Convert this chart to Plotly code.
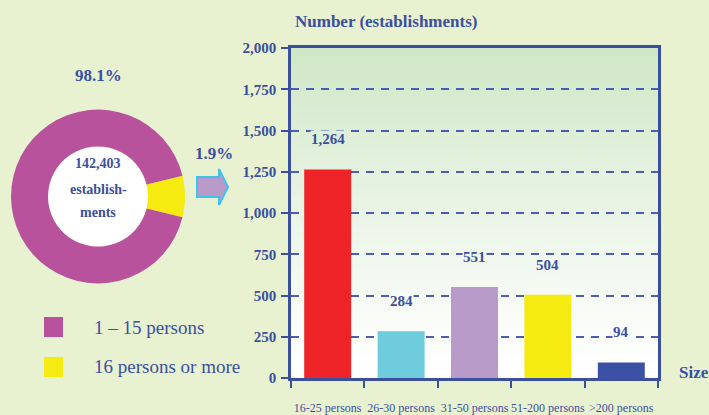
import plotly.graph_objects as go

W, H = 709, 415

# ---------------- data ----------------
size_groups = ["16-25 persons", "26-30 persons", "31-50 persons", "51-200 persons", ">200 persons"]
establishments = [1264, 284, 551, 504, 94]
bar_colors = ["#EE2428", "#6ECCDC", "#B89BC8", "#F5EB10", "#3B52A4"]

pie_groups = ["1 – 15 persons", "16 persons or more"]
pie_pct_labels = ["98.1%", "1.9%"]
pie_drawn_share = [92.3, 7.7]   # wedge as drawn in the picture (exaggerated)
pie_colors = ["#B9529C", "#F5EB10"]
total_lines = ["142,403", "establish-", "ments"]

y_ticks = [0, 250, 500, 750, 1000, 1250, 1500, 1750, 2000]
y_ticktext = ["0", "250", "500", "750", "1,000", "1,250", "1,500", "1,750", "2,000"]
Y_MAX = 2000

BLUE = "#3B4FA0"
BG = "#E8F2D0"
SERIF = "Liberation Serif, Times New Roman, serif"
TOP_RGB = (207, 231, 198)


def px(x):
    return x / W


def py(y):
    return 1 - y / H


def grad(frac):
    t = max(0.0, min(1.0, frac)) ** 1.2
    return "rgb(%d,%d,%d)" % tuple(int(round(255 + (tc - 255) * t)) for tc in TOP_RGB)


fig = go.Figure()

# donut (yellow wedge centered at 3 o'clock)
fig.add_trace(go.Pie(
    labels=pie_groups[::-1], values=pie_drawn_share[::-1],
    marker=dict(colors=pie_colors[::-1], line=dict(width=0)),
    hole=0.575, sort=False, direction="clockwise",
    rotation=90 - pie_drawn_share[1] * 3.6 / 2,
    textinfo="none", hoverinfo="label+value", showlegend=False,
    domain=dict(x=[px(11), px(185)], y=[py(284), py(109)]),
))

# bars
fig.add_trace(go.Bar(
    x=size_groups, y=establishments, marker=dict(color=bar_colors, line=dict(width=0)),
    width=0.64, showlegend=False,
))

shapes = []
# gradient plot background
n = 40
for i in range(n):
    shapes.append(dict(type="rect", xref="x domain", yref="y domain", x0=0, x1=1,
                       y0=i / n, y1=(i + 1) / n + 0.002, fillcolor=grad((i + 0.5) / n),
                       line=dict(width=0), layer="below"))
# white donut hole
shapes.append(dict(type="circle", xref="paper", yref="paper",
                   x0=px(48), x1=px(148), y0=py(247), y1=py(147),
                   fillcolor="white", line=dict(width=0), layer="below"))
# arrow
pts = [(197, 177), (219, 177), (219, 169), (228, 187), (219, 205), (219, 197), (197, 197)]
path = "M " + " L ".join("%f,%f" % (px(a), py(b)) for a, b in pts) + " Z"
shapes.append(dict(type="path", xref="paper", yref="paper", path=path,
                   fillcolor="#B89BC8", line=dict(color="#3EC3EA", width=2)))
# legend squares
for yc, col in zip([327, 367], pie_colors):
    shapes.append(dict(type="rect", xref="paper", yref="paper",
                       x0=px(44), x1=px(63), y0=py(yc + 10), y1=py(yc - 10),
                       fillcolor=col, line=dict(width=0)))

ann = []


def txt(x, y, text, size, bold=True, xanchor="center", **kw):
    f = dict(family=SERIF, size=size, color=BLUE)
    if bold:
        f["weight"] = "bold"
    d = dict(x=x, y=y, text=text, showarrow=False, xanchor=xanchor, yanchor="middle", font=f)
    d.update(kw)
    ann.append(d)


# bar value labels (opaque box so the dashed grid breaks around them)
for cat, v in zip(size_groups, establishments):
    txt(cat, v, "{:,}".format(v), 15, xref="x", yref="y", yshift=30,
        bgcolor=grad((v + 190) / Y_MAX), borderpad=0)
# pie labels
txt(px(98), py(75), pie_pct_labels[0], 17, xref="paper", yref="paper")
txt(px(214), py(153), pie_pct_labels[1], 17, xref="paper", yref="paper")
for yy, line in zip([163, 190, 212], total_lines):
    txt(px(98), py(yy), line, 14, xref="paper", yref="paper")
# legend texts
for yc, t in zip([327, 366], pie_groups):
    txt(px(92), py(yc), t, 19, bold=False, xanchor="left", xref="paper", yref="paper")
# titles
txt(px(386), py(22), "Number (establishments)", 17, xref="paper", yref="paper")
txt(px(694), py(372), "Size", 17, xref="paper", yref="paper")

fig.update_layout(
    width=W, height=H, margin=dict(l=0, r=0, t=0, b=0, pad=0), autosize=False,
    paper_bgcolor=BG, plot_bgcolor="white",
    shapes=shapes, annotations=ann, bargap=0.36,
    xaxis=dict(domain=[px(291), px(658)], type="category", tickson="boundaries",
               ticks="outside", ticklen=7, tickwidth=2, tickcolor=BLUE, tickangle=0,
               showline=True, linecolor=BLUE, linewidth=2.5, mirror=True,
               showgrid=False, ticklabelstandoff=17, automargin=False,
               tickfont=dict(family=SERIF, size=12, color=BLUE)),
    yaxis=dict(domain=[py(378), py(48)], range=[0, Y_MAX], tickvals=y_ticks, ticktext=y_ticktext,
               ticks="outside", ticklen=7, tickwidth=2, tickcolor=BLUE, automargin=False,
               showline=True, linecolor=BLUE, linewidth=2.5, mirror=True,
               showgrid=True, gridcolor="#4A5EB8", gridwidth=1.5, griddash="8px,7px",
               zeroline=False, ticklabelstandoff=2,
               tickfont=dict(family=SERIF, size=15, color=BLUE, weight="bold")),
)

fig.write_html("out.html", config={"displayModeBar": False},
               post_script="document.body.style.margin='0';document.body.style.overflow='hidden';")
